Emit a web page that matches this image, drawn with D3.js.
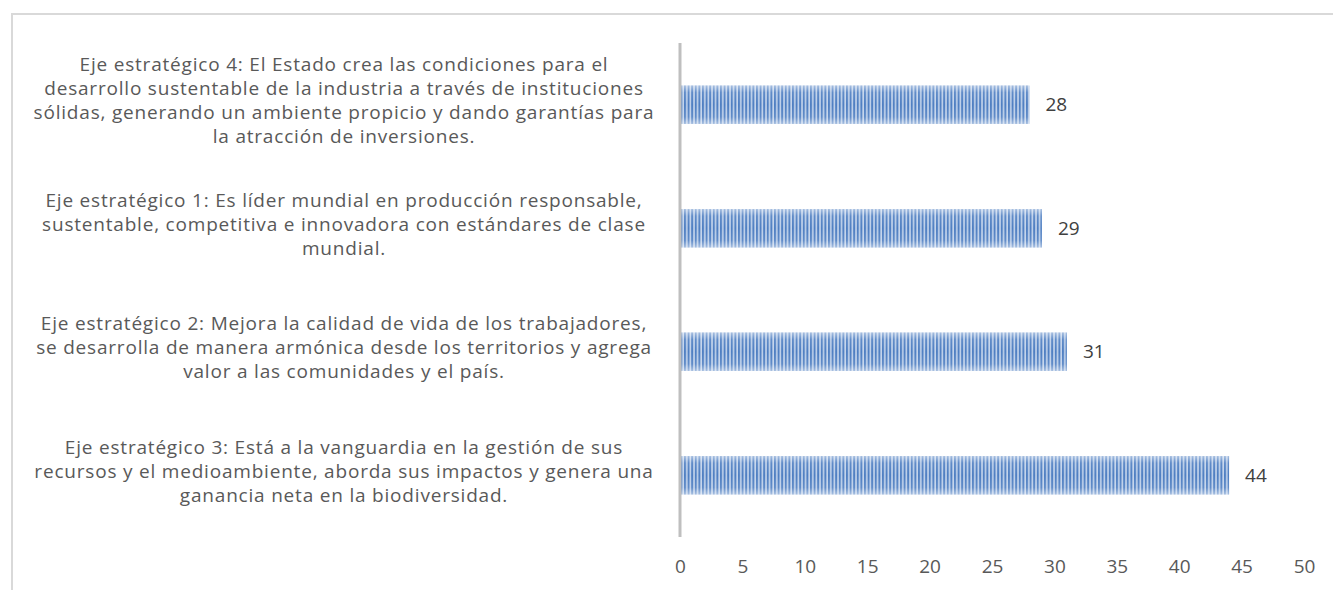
<!DOCTYPE html>
<html>
<head>
<meta charset="utf-8">
<script src="https://cdn.jsdelivr.net/npm/d3@7"></script>
<style>
  html, body { margin: 0; padding: 0; background: #fff; }
  svg { display: block; }
</style>
</head>
<body>
<svg id="chart" width="1333" height="590"></svg>
<script>
const categories = [
  ["Eje estratégico 4: El Estado crea las condiciones para el",
   "desarrollo sustentable de la industria a través de instituciones",
   "sólidas, generando un ambiente propicio y dando garantías para",
   "la atracción de inversiones."],
  ["Eje estratégico 1: Es líder mundial en producción responsable,",
   "sustentable, competitiva e innovadora con estándares de clase",
   "mundial."],
  ["Eje estratégico 2: Mejora la calidad de vida de los trabajadores,",
   "se desarrolla de manera armónica desde los territorios y agrega",
   "valor a las comunidades y el país."],
  ["Eje estratégico 3: Está a la vanguardia en la gestión de sus",
   "recursos y el medioambiente, aborda sus impactos y genera una",
   "ganancia neta en la biodiversidad."]
];
const values = [28, 29, 31, 44];
const xTicks = [0, 5, 10, 15, 20, 25, 30, 35, 40, 45, 50];

const svg = d3.select("#chart");
const font = "'Open Sans', 'Noto Sans', sans-serif";
const fs = 19;

// outer frame (extends beyond view on right/bottom)
svg.append("rect")
  .attr("x", 12).attr("y", 14).attr("width", 1400).attr("height", 700)
  .attr("fill", "none").attr("stroke", "#d9d9d9").attr("stroke-width", 2);

const defs = svg.append("defs");
const pat = defs.append("pattern")
  .attr("id", "stripes").attr("patternUnits", "userSpaceOnUse")
  .attr("width", 3.6).attr("height", 10);
pat.append("rect").attr("x", 0).attr("y", 0).attr("width", 3.6).attr("height", 10).attr("fill", "#c3d4ec");
pat.append("rect").attr("x", 0).attr("y", 0).attr("width", 2).attr("height", 10).attr("fill", "#4f7fc2");

const grad = defs.append("linearGradient")
  .attr("id", "shade").attr("x1", 0).attr("y1", 0).attr("x2", 0).attr("y2", 1);
[[0, 0.5], [0.18, 0.1], [0.5, 0], [0.82, 0.1], [1, 0.5]].forEach(([o, a]) => {
  grad.append("stop").attr("offset", o).attr("stop-color", "#ffffff").attr("stop-opacity", a);
});

const x = d3.scaleLinear().domain([0, 50]).range([680, 1304]);
const y = d3.scaleBand().domain(d3.range(categories.length))
  .range([43, 537]).paddingInner(0.69).paddingOuter(0.345);

const bars = svg.append("g");
values.forEach((v, i) => {
  bars.append("rect")
    .attr("x", x(0)).attr("y", y(i))
    .attr("width", x(v) - x(0)).attr("height", y.bandwidth())
    .attr("fill", "url(#stripes)");
  bars.append("rect")
    .attr("x", x(0)).attr("y", y(i))
    .attr("width", x(v) - x(0)).attr("height", y.bandwidth())
    .attr("fill", "url(#shade)");
  svg.append("text")
    .attr("x", x(v) + 16).attr("y", y(i) + y.bandwidth() / 2)
    .attr("dy", "0.35em")
    .attr("font-family", font).attr("font-size", fs)
    .attr("fill", "#404040")
    .text(v);
});

// vertical axis line
svg.append("line")
  .attr("x1", x(0)).attr("x2", x(0)).attr("y1", 43).attr("y2", 537)
  .attr("stroke", "#bfbfbf").attr("stroke-width", 3);

// category labels
const lineH = 24;
categories.forEach((lines, i) => {
  const cy = y(i) + y.bandwidth() / 2 - 4;
  const t = svg.append("text")
    .attr("font-family", font).attr("font-size", fs)
    .attr("letter-spacing", 0.8)
    .attr("fill", "#595959").attr("text-anchor", "middle");
  lines.forEach((ln, j) => {
    t.append("tspan")
      .attr("x", 344)
      .attr("y", cy + (j - (lines.length - 1) / 2) * lineH)
      .attr("dy", "0.35em")
      .text(ln);
  });
});

// x axis tick labels
const xAxis = d3.axisBottom(x).tickValues(xTicks).tickSize(0).tickPadding(0);
const gx = svg.append("g").attr("transform", "translate(0,566)").call(xAxis);
gx.select(".domain").remove();
gx.selectAll("text")
  .attr("y", 0).attr("dy", "0.35em")
  .attr("font-family", font).attr("font-size", fs)
  .attr("fill", "#595959");
</script>
</body>
</html>
